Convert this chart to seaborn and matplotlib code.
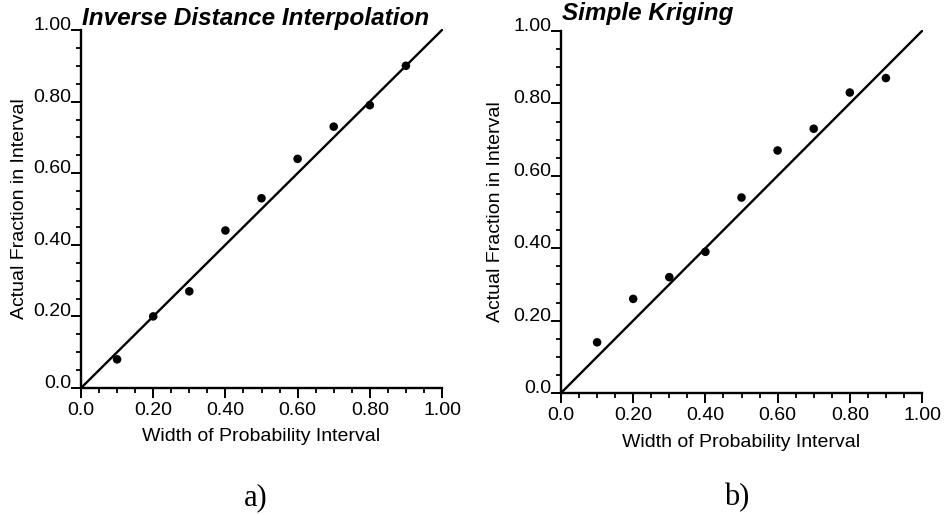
import numpy as np
import pandas as pd
import matplotlib
matplotlib.use("Agg")
import matplotlib.pyplot as plt
from matplotlib.ticker import MultipleLocator
import seaborn as sns

# Width of the probability interval (shared x values)
interval_width = [0.1, 0.2, 0.3, 0.4, 0.5, 0.6, 0.7, 0.8, 0.9]

# Actual fraction of true values falling inside the interval
idw_fraction = [0.08, 0.20, 0.27, 0.44, 0.53, 0.64, 0.73, 0.79, 0.90]
sk_fraction = [0.14, 0.26, 0.32, 0.39, 0.54, 0.67, 0.73, 0.83, 0.87]

# 1:1 reference line end points
diag = [0.0, 1.0]

tick_values = [0.0, 0.2, 0.4, 0.6, 0.8, 1.0]
tick_labels = ["0.0", "0.20", "0.40", "0.60", "0.80", "1.00"]

panel_titles = ["Inverse Distance Interpolation", "Simple Kriging"]
panel_tags = ["a)", "b)"]

sns.set_style("ticks")
plt.rcParams["font.family"] = ["Liberation Sans", "DejaVu Sans"]

fig = plt.figure(figsize=(9.47, 5.15), dpi=100)
axes = [
    fig.add_axes([81 / 947, 1 - 388 / 515, 361 / 947, 358 / 515]),
    fig.add_axes([561 / 947, 1 - 393 / 515, 361 / 947, 362 / 515]),
]

series = [idw_fraction, sk_fraction]
title_y = [1.013, 1.03]
ylab_x = [-0.148, -0.158]
tag_x = [256 / 947, 737 / 947]

for i, ax in enumerate(axes):
    df = pd.DataFrame({"width": interval_width, "fraction": series[i]})
    line_df = pd.DataFrame({"x": diag, "y": diag})
    sns.lineplot(data=line_df, x="x", y="y", ax=ax, color="black",
                 linewidth=1.7, clip_on=False)
    sns.scatterplot(data=df, x="width", y="fraction", ax=ax, color="black",
                    s=38, edgecolor="none", zorder=3, clip_on=False)

    ax.set_xlim(0, 1)
    ax.set_ylim(0, 1)
    ax.set_xticks(tick_values)
    ax.set_xticklabels(tick_labels)
    ax.set_yticks(tick_values)
    ax.set_yticklabels(tick_labels)
    ax.xaxis.set_minor_locator(MultipleLocator(0.05))
    ax.yaxis.set_minor_locator(MultipleLocator(0.05))

    ax.tick_params(axis="both", which="major", length=7, width=1.4,
                   labelsize=14, color="black", labelcolor="black")
    ax.tick_params(axis="both", which="minor", length=3.5, width=1.3,
                   color="black")
    ax.tick_params(axis="y", which="major", pad=0)
    ax.tick_params(axis="x", which="major", pad=3)
    for lbl in ax.get_yticklabels():
        lbl.set_verticalalignment("baseline")

    for side in ("top", "right"):
        ax.spines[side].set_visible(False)
    for side in ("left", "bottom"):
        ax.spines[side].set_linewidth(1.7)
        ax.spines[side].set_color("black")

    ax.set_xlabel("Width of Probability Interval", fontsize=14,
                  color="black")
    ax.set_ylabel("Actual Fraction in Interval", fontsize=14,
                  color="black")
    ax.xaxis.set_label_coords(0.5, -0.112)
    ax.xaxis.label.set_verticalalignment("top")
    ax.yaxis.set_label_coords(ylab_x[i], 0.5)

    ax.text(0.003, title_y[i], panel_titles[i], transform=ax.transAxes,
            fontsize=17.5, fontweight="bold", fontstyle="italic",
            ha="left", va="baseline", color="black")

    fig.text(tag_x[i], 10 / 515, panel_tags[i], fontsize=22,
             family=["Liberation Serif", "DejaVu Serif"],
             ha="center", va="baseline", color="black")

fig.savefig("out.png", dpi=100)
